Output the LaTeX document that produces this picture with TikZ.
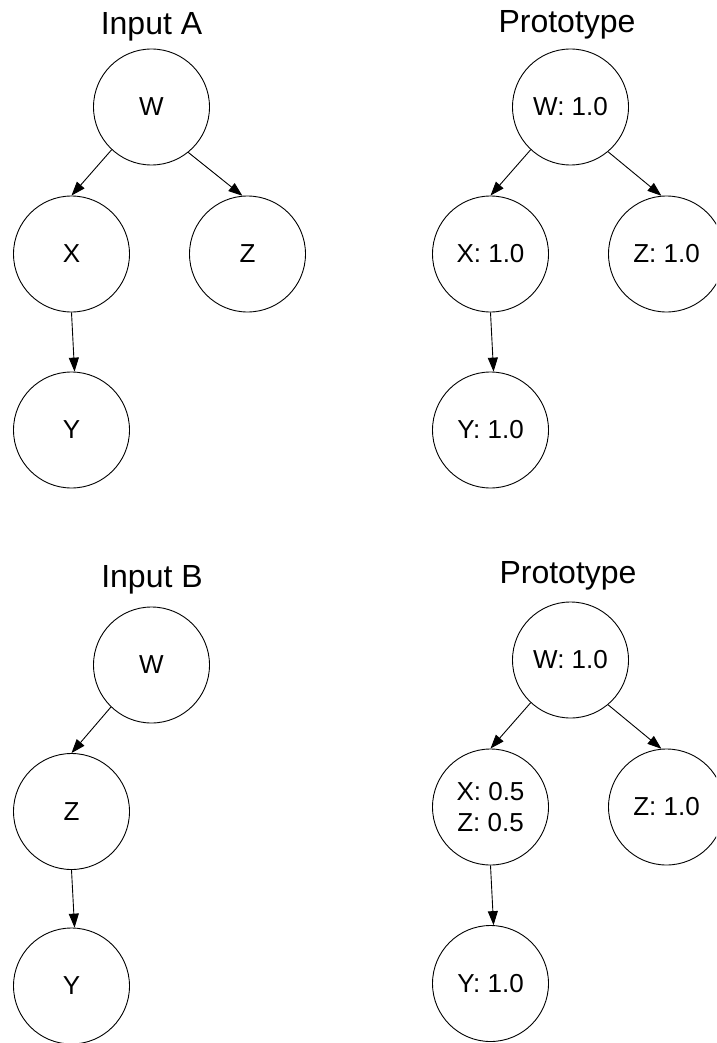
\documentclass[tikz,border=0pt]{standalone}
\usepackage{fontspec}
\setmainfont{Liberation Sans}
\usetikzlibrary{arrows.meta}
\begin{document}
\begin{tikzpicture}[x=1pt,y=-1pt,
  state/.style={circle,draw=black,line width=0.9pt,minimum size=116pt,inner sep=0pt,
    align=center,font=\fontsize{26}{31}\selectfont},
  heading/.style={anchor=base,inner sep=0pt,font=\fontsize{32}{38}\selectfont},
  edge/.style={line width=0.9pt,-{Triangle[length=14pt,width=10pt]}}]
\useasboundingbox (0,0) rectangle (716,1043);
\clip (0,0) rectangle (716,1043);

% ---- Input A ----
\node[heading] (tA) at (151.5,35) {Input A};
\node[state] (aW) at (151.5,107) {W};
\node[state] (aX) at (71.5,254) {X};
\node[state] (aZ) at (247.5,254) {Z};
\node[state] (aY) at (71.5,430) {Y};
\draw[edge] (aW.-133) -- (aX.90);
\draw[edge] (aW.-51) -- (aZ.95);
\draw[edge] (aX.-90) -- (aY.87);

% ---- Prototype after A ----
\node[heading] (tP1) at (567,33) {Prototype};
\node[state] (pW) at (570.5,107) {W: 1.0};
\node[state] (pX) at (490.5,254) {X: 1.0};
\node[state] (pZ) at (666.5,254) {Z: 1.0};
\node[state] (pY) at (490.5,430) {Y: 1.0};
\draw[edge] (pW.-133) -- (pX.90);
\draw[edge] (pW.-50) -- (pZ.95);
\draw[edge] (pX.-90) -- (pY.87);

% ---- Input B ----
\node[heading] (tB) at (152,587) {Input B};
\node[state] (bW) at (151.5,665) {W};
\node[state] (bZ) at (71.5,811.5) {Z};
\node[state] (bY) at (71.5,986) {Y};
\draw[edge] (bW.-134) -- (bZ.90);
\draw[edge] (bZ.-90) -- (bY.87);

% ---- Prototype after B ----
\node[heading] (tP2) at (568,583) {Prototype};
\node[state] (qW) at (570.5,660) {W: 1.0};
\node[state] (qX) at (490.5,807) {X: 0.5\\Z: 0.5};
\node[state] (qZ) at (666.5,807) {Z: 1.0};
\node[state] (qY) at (490.5,983.5) {Y: 1.0};
\draw[edge] (qW.-133) -- (qX.90);
\draw[edge] (qW.-50) -- (qZ.95);
\draw[edge] (qX.-90) -- (qY.87);
\end{tikzpicture}
\end{document}
